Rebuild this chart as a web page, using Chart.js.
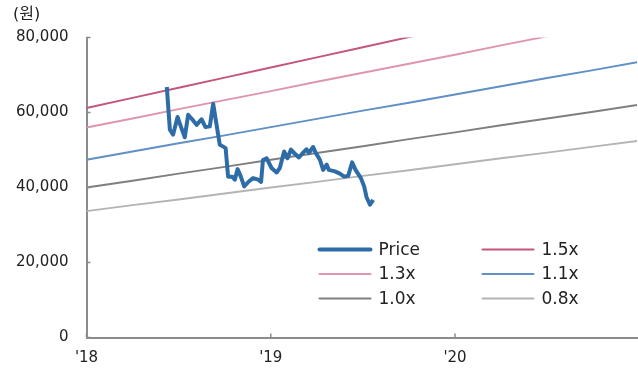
<!DOCTYPE html>
<html lang="ko">
<head>
    <meta charset="UTF-8">
    <title>PBR Band</title>
    <style>
        body {
            margin: 0;
            background: #fff;
        }
        .chart-box {
            position: relative;
            width: 638px;
            height: 374px;
        }
    </style>
</head>
<body>
    <div class="chart-box">
        <canvas id="bandChart"></canvas>
    </div>
    <script src="https://cdn.jsdelivr.net/npm/chart.js"></script>
    <script>
        // x values are months counted from Jan 2018
        const yearTicks = [0, 12, 24];
        const yearLabels = ["'18", "'19", "'20"];

        const bandMonths = [0, 3, 6, 9, 12, 15, 18, 21, 24, 27, 30, 33, 36];
        const band15 = [61200, 63900, 66600, 69300, 72000, 74700, 77400, 80100, 82800, 85500, 88200, 90900, 93600];
        const band13 = [56000, 58400, 60900, 63300, 65700, 68200, 70600, 73000, 75400, 77900, 80300, 82700, 85200];
        const band11 = [47400, 49600, 51800, 53900, 56100, 58300, 60500, 62600, 64800, 67000, 69200, 71300, 73500];
        const band10 = [40000, 41800, 43700, 45500, 47400, 49200, 51000, 52900, 54700, 56600, 58400, 60200, 62100];
        const band08 = [33700, 35300, 36800, 38400, 40000, 41500, 43100, 44600, 46200, 47800, 49300, 50900, 52500];

        const priceMonths = [5.23, 5.43, 5.64, 5.93, 6.14, 6.40, 6.62, 6.88, 7.17, 7.49,
            7.75, 8.03, 8.25, 8.47, 8.68, 8.90, 9.06, 9.22, 9.49, 9.66,
            9.84, 10.05, 10.27, 10.57, 10.85, 11.18, 11.37, 11.49, 11.73, 12.05,
            12.38, 12.59, 12.87, 13.09, 13.31, 13.52, 13.83, 14.11, 14.33, 14.48,
            14.76, 14.92, 15.20, 15.41, 15.64, 15.78, 16.18, 16.50, 16.78, 17.04,
            17.30, 17.52, 17.87, 18.08, 18.24, 18.46, 18.67];
        const priceValues = [66800, 55400, 54100, 58800, 56300, 53400, 59400, 58200, 56700, 58200,
            56100, 56300, 62300, 56700, 51400, 50900, 50500, 42900, 42900, 42100,
            44900, 42900, 40300, 41600, 42500, 42100, 41500, 47300, 47800, 45200,
            44000, 45200, 49600, 47800, 50100, 49200, 48000, 49300, 50200, 49200,
            50800, 49300, 47400, 44700, 46100, 44700, 44300, 43700, 42900, 43100,
            46700, 44700, 42500, 40300, 37400, 35400, 36700];

        const FONT = '"DejaVu Sans", "Noto Sans", "Noto Sans CJK KR", sans-serif';

        function toPoints(xs, ys) {
            return xs.map((x, i) => ({ x: x, y: ys[i] }));
        }

        function bandSet(label, values, color) {
            return {
                label: label,
                data: toPoints(bandMonths, values),
                borderColor: color,
                borderWidth: 2,
                pointRadius: 0,
                tension: 0,
                fill: false
            };
        }

        // legend in two columns inside the plot
        const gridLegend = {
            id: 'gridLegend',
            afterDraw(chart) {
                const ctx = chart.ctx;
                const area = chart.chartArea;
                ctx.save();
                ctx.font = '17px ' + FONT;
                ctx.textBaseline = 'middle';
                chart.data.datasets.forEach((ds, i) => {
                    const x = area.left + 233 + (i % 2) * 163;
                    const y = area.top + 212 + Math.floor(i / 2) * 24.5;
                    ctx.strokeStyle = ds.borderColor;
                    ctx.lineWidth = ds.borderWidth;
                    ctx.lineCap = 'round';
                    ctx.beginPath();
                    ctx.moveTo(x, y);
                    ctx.lineTo(x + 51, y);
                    ctx.stroke();
                    ctx.fillStyle = '#222';
                    ctx.fillText(ds.label, x + 59, y + 1);
                });
                ctx.restore();
            }
        };

        // unit label and small tick marks pointing into the plot
        const extras = {
            id: 'extras',
            afterDraw(chart) {
                const ctx = chart.ctx;
                const a = chart.chartArea;
                const xs = chart.scales.x;
                const ys = chart.scales.y;
                ctx.save();
                ctx.strokeStyle = '#8c8c8c';
                ctx.lineWidth = 1.5;
                ctx.beginPath();
                ys.ticks.forEach(t => {
                    const py = ys.getPixelForValue(t.value);
                    ctx.moveTo(a.left, py);
                    ctx.lineTo(a.left + 4, py);
                });
                xs.ticks.forEach(t => {
                    const px = xs.getPixelForValue(t.value);
                    ctx.moveTo(px, a.bottom);
                    ctx.lineTo(px, a.bottom - 4);
                });
                ctx.stroke();
                ctx.fillStyle = '#222';
                ctx.font = '16px ' + FONT;
                ctx.textBaseline = 'middle';
                ctx.fillText('(원)', 13, 15);
                ctx.restore();
            }
        };

        new Chart(document.getElementById('bandChart'), {
            type: 'line',
            data: {
                datasets: [
                    {
                        label: 'Price',
                        data: toPoints(priceMonths, priceValues),
                        borderColor: '#2e6ca8',
                        borderWidth: 4,
                        pointRadius: 0,
                        tension: 0,
                        fill: false,
                        borderJoinStyle: 'round'
                    },
                    bandSet('1.5x', band15, '#c4557f'),
                    bandSet('1.3x', band13, '#df95ae'),
                    bandSet('1.1x', band11, '#5f90c6'),
                    bandSet('1.0x', band10, '#7f7f7f'),
                    bandSet('0.8x', band08, '#b4b4b4')
                ]
            },
            options: {
                responsive: true,
                maintainAspectRatio: false,
                animation: false,
                layout: {
                    padding: { top: 37.5, right: 1, bottom: 0, left: 0 }
                },
                plugins: {
                    legend: { display: false },
                    tooltip: { enabled: false }
                },
                scales: {
                    x: {
                        type: 'linear',
                        min: 0,
                        max: 35.85,
                        afterBuildTicks: axis => {
                            axis.ticks = yearTicks.map(v => ({ value: v }));
                        },
                        afterFit: s => { s.height = 36.5; },
                        grid: { display: false, drawTicks: false },
                        border: { display: true, color: '#8c8c8c', width: 2 },
                        ticks: {
                            autoSkip: false,
                            maxRotation: 0,
                            padding: 12,
                            color: '#222',
                            font: { family: FONT, size: 15 },
                            callback: v => yearLabels[yearTicks.indexOf(v)]
                        }
                    },
                    y: {
                        min: 0,
                        max: 80000,
                        afterFit: s => { s.width = 86.5; },
                        grid: { display: false, drawTicks: false },
                        border: { display: true, color: '#8c8c8c', width: 2 },
                        ticks: {
                            stepSize: 20000,
                            padding: 18,
                            color: '#222',
                            font: { family: FONT, size: 15 },
                            callback: v => v.toLocaleString('en-US')
                        }
                    }
                }
            },
            plugins: [gridLegend, extras]
        });
    </script>
</body>
</html>
